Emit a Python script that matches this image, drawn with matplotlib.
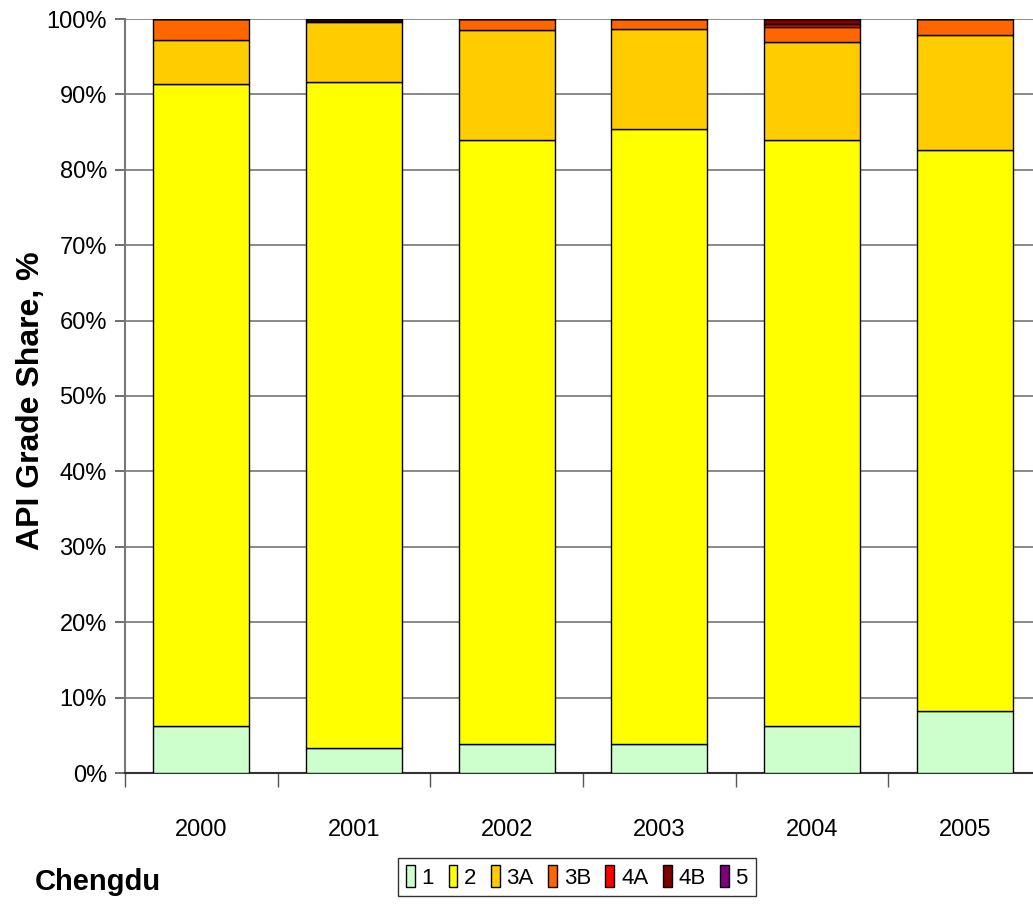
import matplotlib
matplotlib.use("Agg")
import matplotlib.pyplot as plt
import numpy as np
from matplotlib.ticker import FixedLocator, FuncFormatter
from matplotlib.patches import Patch

years = ["2000", "2001", "2002", "2003", "2004", "2005"]
grades = ["1", "2", "3A", "3B", "4A", "4B", "5"]

grade_1 = [6.2, 3.3, 3.8, 3.8, 6.2, 8.2]
grade_2 = [85.2, 88.4, 80.2, 81.6, 77.8, 74.4]
grade_3a = [5.8, 7.9, 14.5, 13.3, 12.9, 15.3]
grade_3b = [2.8, 0.2, 1.5, 1.3, 2.1, 2.1]
grade_4a = [0.0, 0.0, 0.0, 0.0, 0.3, 0.0]
grade_4b = [0.0, 0.2, 0.0, 0.0, 0.7, 0.0]
grade_5 = [0.0, 0.0, 0.0, 0.0, 0.0, 0.0]

colors = ["#CCFFCC", "#FFFF00", "#FFCC00", "#FF6600", "#FF0000", "#800000", "#800080"]

sans = ["Liberation Sans", "DejaVu Sans"]
plt.rcParams["font.family"] = sans

W, H = 1033, 907
fig = plt.figure(figsize=(W / 100, H / 100), dpi=100)
ax = fig.add_axes([125 / W, 1 - 773 / H, 916 / W, (773 - 19) / H])

series = [grade_1, grade_2, grade_3a, grade_3b, grade_4a, grade_4b, grade_5]
x = np.arange(len(years))
bottom = np.zeros(len(years))
for vals, col, name in zip(series, colors, grades):
    v = np.array(vals)
    ax.bar(x, v, width=0.63, bottom=bottom, color=col, edgecolor="black",
           linewidth=1.0, label=name, zorder=3)
    bottom += v

ax.set_xlim(-0.5, len(years) - 0.5)
ax.set_ylim(0, 100)

ax.yaxis.set_major_locator(FixedLocator(np.arange(0, 101, 10)))
ax.yaxis.set_major_formatter(FuncFormatter(lambda v, p: f"{int(v)}%"))
ax.grid(axis="y", color="#808080", linewidth=1.3, zorder=0)
ax.tick_params(axis="y", direction="out", length=7, width=1.2, color="#555555",
               labelsize=17, pad=6)

ax.set_xticks(x)
ax.set_xticklabels(years)
ax.xaxis.set_minor_locator(FixedLocator(np.arange(-0.5, len(years), 1.0)))
ax.tick_params(axis="x", which="major", length=0, labelsize=17, pad=33)
ax.tick_params(axis="x", which="minor", direction="out", length=10, width=1.0,
               color="#555555")

for s in ["top", "right"]:
    ax.spines[s].set_visible(False)
ax.spines["left"].set_color("#777777")
ax.spines["left"].set_linewidth(1.5)
ax.spines["bottom"].set_color("#333333")
ax.spines["bottom"].set_linewidth(1.5)

fig.text(31 / W, 1 - 401 / H, "API Grade Share, %", rotation=90, ha="center",
         va="center", fontsize=23, fontweight="bold", family=sans)

fig.text(35 / W, 1 - 882 / H, "Chengdu", ha="left", va="center", fontsize=21,
         fontweight="bold", family=sans)

handles = [Patch(facecolor=c, edgecolor="black", linewidth=1.0) for c in colors]
leg = fig.legend(handles, grades, loc="center", ncol=len(grades),
                 bbox_to_anchor=(577 / W, 1 - 877 / H), fontsize=16,
                 frameon=True, fancybox=False, edgecolor="black",
                 handlelength=0.4, handleheight=1.1, handletextpad=0.3,
                 columnspacing=0.65, borderpad=0.35, borderaxespad=0)
leg.get_frame().set_linewidth(1.0)

fig.savefig("out.png", dpi=100)
